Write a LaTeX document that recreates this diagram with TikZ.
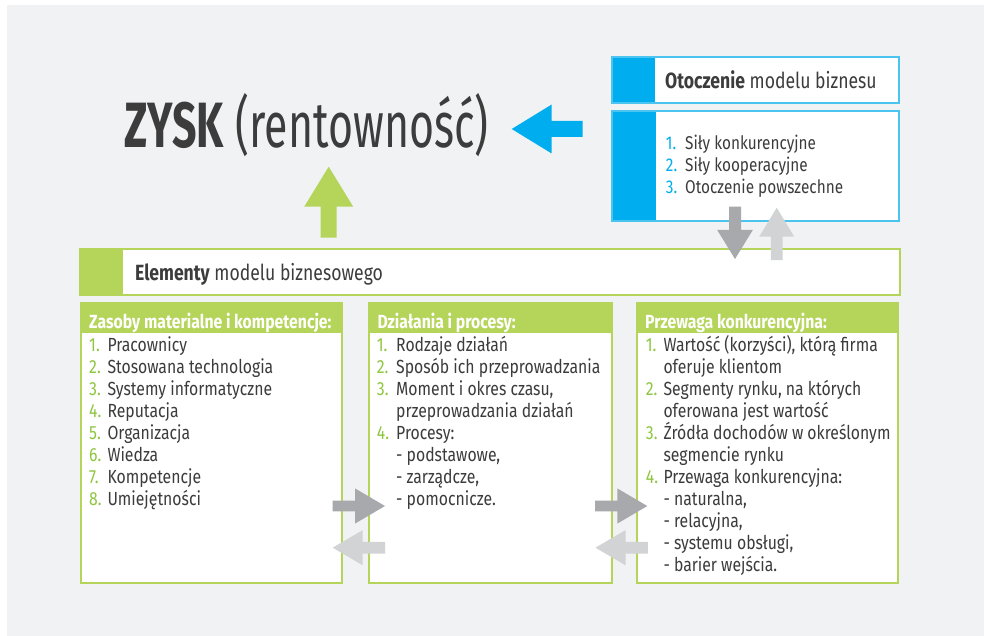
\documentclass[tikz,border=0pt]{standalone}
\usepackage{fontspec}
\setmainfont{Fira Sans}[FakeStretch=0.83]
\newfontfamily\titlefont{Fira Sans}[FakeStretch=0.80]
\newfontfamily\bigfont{Fira Sans}[FakeStretch=0.67]
\definecolor{bgray}{HTML}{F1F2F4}
\definecolor{grn}{HTML}{B4D45A}
\definecolor{numgrn}{HTML}{8DC63F}
\definecolor{blu}{HTML}{00AEEF}
\definecolor{bluline}{HTML}{4CC4F0}
\definecolor{arrdark}{HTML}{A7A9AC}
\definecolor{arrlight}{HTML}{D1D3D4}
\definecolor{txt}{HTML}{3C3C3C}

% block arrow: colour, tip x, tip y, angle, total length, head length, head half-width, shaft half-width
\newcommand\blkarrow[8]{%
  \fill[#1,shift={(#2,#3)},rotate=#4] (0,0) -- (-#6,#7) -- (-#6,#8) -- (-#5,#8)
    -- (-#5,-#8) -- (-#6,-#8) -- (-#6,-#7) -- cycle;}

\tikzset{
  frame/.style={anchor=north west, inner sep=0pt, outer sep=0pt, fill=white, line width=1.4pt},
  grnframe/.style={frame, draw=grn},
  bluframe/.style={frame, draw=bluline},
  item/.style={anchor=base west, inner sep=0pt, text=txt, font=\fontsize{19}{22}\selectfont},
  boxhead/.style={anchor=base west, inner sep=0pt, text=white, font=\fontsize{19}{22}\selectfont\bfseries},
  title/.style={anchor=base west, inner sep=0pt, text=txt, font=\titlefont\fontsize{22}{26}\selectfont},
}
\newcommand\gnum[2]{\makebox[#1][l]{\textcolor{numgrn}{#2}}}
\newcommand\bnum[2]{\makebox[#1][l]{\textcolor{blu}{#2}}}

\begin{document}
\begin{tikzpicture}[x=1pt,y=-1pt]
\useasboundingbox (0,0) rectangle (984,636);
\fill[white] (0,0) rectangle (984,636);
\fill[bgray] (7,5) rectangle (984,636);

% ---- main result ----
\node[anchor=base west, inner sep=0pt, text=txt, font=\bigfont\fontsize{64}{70}\selectfont] (zysk) at (124,147.7)
  {\textbf{ZYSK} (rentowność)};

% ---- environment of the business model ----
\node[bluframe, minimum width=287pt, minimum height=46pt] (othead) at (612,57) {};
\fill[blu] (othead.north west) rectangle ([xshift=43pt]othead.south west);
\draw[bluline, line width=1.4pt] (othead.north west) rectangle (othead.south east);
\node[title] (ottitle) at (665,88.3) {\textbf{Otoczenie} modelu biznesu};

\node[bluframe, minimum width=287pt, minimum height=110pt] (otlist) at (612,111) {};
\fill[blu] (otlist.north west) rectangle ([xshift=44pt]otlist.south west);
\draw[bluline, line width=1.4pt] (otlist.north west) rectangle (otlist.south east);
\foreach [count=\i] \n/\t in {{1.}/{Siły konkurencyjne},{2.}/{Siły kooperacyjne},{3.}/{Otoczenie powszechne}}
  \node[item, font=\fontsize{18.5}{22}\selectfont] (ot-\i) at (665.7,{150+22*(\i-1)}) {\bnum{19.3pt}{\n}\t};

% ---- elements of the business model ----
\node[grnframe, minimum width=820pt, minimum height=46pt] (elem) at (80,249) {};
\fill[grn] (elem.north west) rectangle ([xshift=43pt]elem.south west);
\draw[grn, line width=1.4pt] (elem.north west) rectangle (elem.south east);
\node[title] (elemtitle) at (135,280.7) {\textbf{Elementy} modelu biznesowego};

% three component boxes
\node[grnframe, minimum width=261pt, minimum height=280pt] (res) at (81,303) {};
\node[grnframe, minimum width=243pt, minimum height=280pt] (act) at (369,303) {};
\node[grnframe, minimum width=261pt, minimum height=280pt] (adv) at (637,303) {};
\foreach \b in {res,act,adv}
  \fill[grn] (\b.north west) rectangle ([yshift=-30pt]\b.north east);

\node[boxhead] (reshead) at (89,328.3) {Zasoby materialne i kompetencje:};
\node[boxhead] (acthead) at (377.3,328.3) {Działania i procesy:};
\node[boxhead] (advhead) at (645,328.3) {Przewaga konkurencyjna:};

\foreach [count=\i] \n/\t in {{1.}/{Pracownicy},{2.}/{Stosowana technologia},{3.}/{Systemy informatyczne},
    {4.}/{Reputacja},{5.}/{Organizacja},{6.}/{Wiedza},{7.}/{Kompetencje},{8.}/{Umiejętności}}
  \node[item] (res-\i) at (89,{351.7+22*(\i-1)}) {\gnum{18.3pt}{\n}\t};

\foreach [count=\i] \n/\t in {{1.}/{Rodzaje działań},{2.}/{Sposób ich przeprowadzania},{3.}/{Moment i okres czasu,},
    {}/{przeprowadzania działań},{4.}/{Procesy:},{}/{- podstawowe,},{}/{- zarządcze,},{}/{- pomocnicze.}}
  \node[item] (act-\i) at (376.7,{351.7+22*(\i-1)}) {\gnum{19.3pt}{\n}\t};

\foreach [count=\i] \n/\t in {{1.}/{Wartość (korzyści), którą firma},{}/{oferuje klientom},
    {2.}/{Segmenty rynku, na których},{}/{oferowana jest wartość},
    {3.}/{Źródła dochodów w określonym},{}/{segmencie rynku},
    {4.}/{Przewaga konkurencyjna:},{}/{- naturalna,},{}/{- relacyjna,},{}/{- systemu obsługi,},{}/{- barier wejścia.}}
  \node[item] (adv-\i) at (645.7,{351.7+22*(\i-1)}) {\gnum{17.6pt}{\n}\t};

% ---- block arrows ----
\blkarrow{blu}{511.7}{129}{180}{71}{40}{24.5}{8}
\blkarrow{grn}{328.7}{166.7}{90}{71}{40}{24.5}{8}
\blkarrow{arrdark}{735}{259}{-90}{52.3}{29}{17.8}{6}
\blkarrow{arrlight}{776.7}{207.7}{90}{52.3}{29}{17.5}{5.8}
\blkarrow{arrdark}{385}{506}{0}{52.3}{30}{17.6}{5.3}
\blkarrow{arrlight}{332.7}{547.7}{180}{52.3}{30}{17.6}{5.8}
\blkarrow{arrdark}{647.3}{506}{0}{52.3}{30}{17.6}{5.3}
\blkarrow{arrlight}{595.5}{547.7}{180}{52.3}{30}{17.6}{5.8}
\end{tikzpicture}
\end{document}
